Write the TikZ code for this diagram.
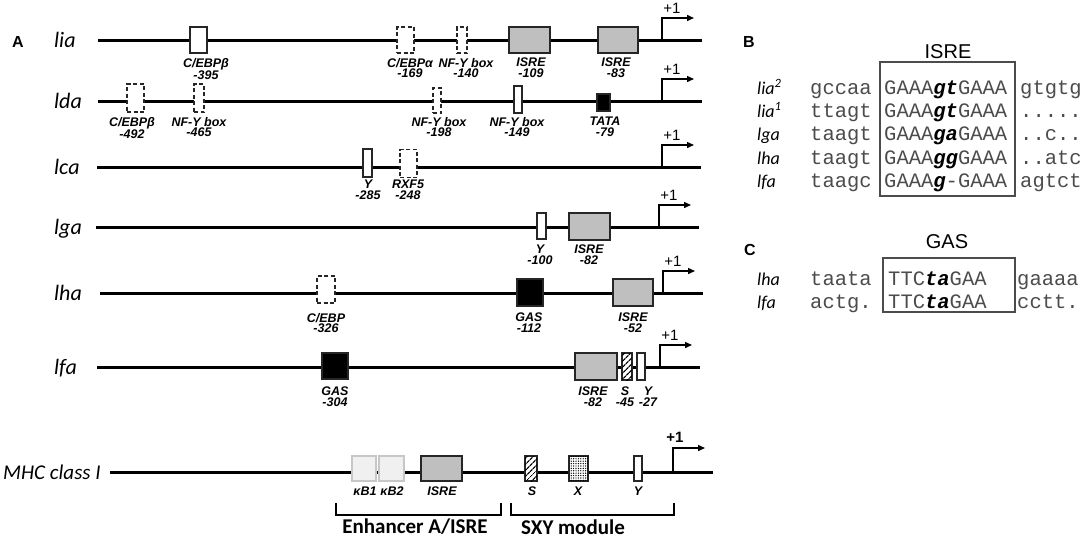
\documentclass[tikz,border=0pt]{standalone}
\usepackage{fontspec}
\setmainfont{Liberation Sans}
\newfontfamily\carlito{Carlito}
\newfontfamily\seqfont{Liberation Mono}
\usetikzlibrary{arrows.meta,patterns.meta,positioning}
\newcommand\mut[1]{{\color{black}\bfseries\itshape #1}}

\begin{document}
\begin{tikzpicture}[x=1pt,y=-1pt,
    dna/.style={line width=3pt},
    site/.style={draw=black!85,line width=1.8pt,inner sep=0pt,minimum height=26pt,fill=white},
    wbox/.style={site},
    dbox/.style={site,dash pattern=on 4pt off 2.5pt},
    isre/.style={site,fill=black!25,minimum width=41pt},
    blk/.style={site,fill=black},
    kb/.style={site,draw=black!22,fill=black!6,minimum width=25pt},
    hatch/.style={site,postaction={pattern={Lines[angle=45,distance=4pt,line width=1.4pt]}}},
    xdots/.style={site,postaction={pattern={Dots[distance=2.4pt,radius=0.7pt]}}},
    lab/.style={font=\fontsize{12.5}{10.5}\selectfont\bfseries\itshape,align=center,anchor=north,inner sep=0pt},
    gene/.style={font=\carlito\fontsize{22}{22}\selectfont\itshape,anchor=base west,inner sep=0pt},
    row/.style={font=\carlito\fontsize{18}{18}\selectfont\itshape,anchor=base west,inner sep=0pt},
    seq/.style={font=\seqfont\fontsize{20.5}{20.5}\selectfont,anchor=base west,inner sep=0pt,text=black!70},
    tss/.style={line width=1.4pt,-{Triangle[length=7pt,width=6pt]}},
    plus/.style={font=\fontsize{15}{15}\selectfont,inner sep=0pt},
    panel/.style={font=\fontsize{16}{16}\selectfont\bfseries,anchor=base west,inner sep=0pt},
    brace/.style={line width=1.6pt},
    module/.style={font=\carlito\fontsize{21}{21}\selectfont\bfseries,inner sep=0pt}
  ]
  \path[use as bounding box,fill=white] (0,0) rectangle (1084,538);

  % panel A
  \node[panel] (A) at (12,47) {A};
  \foreach \n/\y/\s/\e/\t in {lia/40/98/702/662, lda/101/98/702/662,
      lca/167/97/701/662, lga/227/96/699/659, lha/293/100/703/663, lfa/367/97/700/660} {
    \node[gene] (\n) at (54,\y+7.5) {\n};
    \coordinate (\n-s) at (\s,\y);
    \coordinate (\n-e) at (\e,\y);
    \draw[dna] (\n-s) -- (\n-e);
    \coordinate (\n-t) at (\t,\y);
    \coordinate (\n-a) at (\t+32,\y-22);
    \draw[tss] (\n-t) |- (\n-a);
    \node[plus] (\n-p) at (\t+10,\y-32) {+1};
  }

  % lia
  \node[wbox,minimum width=17pt] (lia1) at (198.5,40) {};
  \node[dbox,minimum width=17pt] (lia2) at (405.5,40) {};
  \node[dbox,minimum width=10pt] (lia3) at (462,40) {};
  \node[isre] (lia4) at (529.5,40) {};
  \node[isre,minimum width=40pt] (lia5) at (618,40) {};
  \node[lab] (lia1l) at (206,58) {C/EBPβ\\-395};
  \node[lab] (lia2l) at (410,58) {C/EBPα\\-169};
  \node[lab] (lia3l) at (466,58) {NF-Y box\\-140};
  \node[lab] (lia4l) at (531,58) {ISRE\\-109};
  \node[lab] (lia5l) at (616,58) {ISRE\\-83};

  % lda
  \node[dbox,minimum width=17pt,minimum height=28pt] (lda1) at (135.5,98) {};
  \node[dbox,minimum width=10pt,minimum height=28pt] (lda2) at (199,98) {};
  \node[dbox,minimum width=8pt,minimum height=25pt] (lda3) at (437,100.5) {};
  \node[wbox,minimum width=8pt,minimum height=27pt] (lda4) at (518,99.5) {};
  \node[blk,minimum width=13pt,minimum height=17pt] (lda5) at (603.5,102.5) {};
  \node[lab] (lda1l) at (132,117) {C/EBPβ\\-492};
  \node[lab] (lda2l) at (199,117) {NF-Y box\\-465};
  \node[lab] (lda3l) at (439,117) {NF-Y box\\-198};
  \node[lab] (lda4l) at (517,117) {NF-Y box\\-149};
  \node[lab] (lda5l) at (605,117) {TATA\\-79};

  % lca
  \node[wbox,minimum width=9pt,minimum height=28pt] (lca1) at (367.5,163) {};
  \node[dbox,minimum width=17pt,minimum height=28pt] (lca2) at (408.5,163.5) {};
  \node[lab] (lca1l) at (368,180) {Y\\-285};
  \node[lab] (lca2l) at (408,180) {RXF5\\-248};

  % lga
  \node[wbox,minimum width=9pt] (lga1) at (541.5,226) {};
  \node[isre,minimum height=27pt] (lga2) at (589.5,226.5) {};
  \node[lab] (lga1l) at (540,245) {Y\\-100};
  \node[lab] (lga2l) at (589,245) {ISRE\\-82};

  % lha
  \node[dbox,minimum width=18pt,minimum height=27pt] (lha1) at (326,289.5) {};
  \node[blk,minimum width=26pt,minimum height=27pt] (lha2) at (530,292.5) {};
  \node[isre,minimum width=40pt,minimum height=27pt] (lha3) at (633,292.5) {};
  \node[lab] (lha1l) at (326,313) {C/EBP\\-326};
  \node[lab] (lha2l) at (529,313) {GAS\\-112};
  \node[lab] (lha3l) at (633,313) {ISRE\\-52};

  % lfa
  \node[blk,minimum width=26pt] (lfa1) at (335,366) {};
  \node[isre,minimum width=42pt,minimum height=27pt] (lfa2) at (596,366.5) {};
  \node[hatch,minimum width=10pt,minimum height=27pt] (lfa3) at (627,366.5) {};
  \node[wbox,minimum width=8pt,minimum height=27pt] (lfa4) at (641,366.5) {};
  \node[lab] (lfa1l) at (335,387) {GAS\\-304};
  \node[lab] (lfa2l) at (593,387) {ISRE\\-82};
  \node[lab] (lfa3l) at (625,387) {S\\-45};
  \node[lab] (lfa4l) at (648,387) {Y\\-27};

  % MHC class I
  \node[gene,font=\carlito\fontsize{21}{21}\selectfont\itshape] (mhc) at (3,479.5) {MHC class I};
  \coordinate (mhc-s) at (110,472);
  \coordinate (mhc-e) at (713,472);
  \draw[dna] (mhc-s) -- (mhc-e);
  \coordinate (mhc-t) at (673,472);
  \coordinate (mhc-a) at (705,448);
  \draw[tss] (mhc-t) |- (mhc-a);
  \node[plus,font=\fontsize{15}{15}\selectfont\bfseries] (mhc-p) at (675,437) {+1};
  \node[kb,minimum width=24pt,minimum height=25pt] (kb1) at (364,468.5) {};
  \node[kb,minimum height=25pt] (kb2) at (391.5,468.5) {};
  \node[isre,minimum height=25pt] (mhc-i) at (441.5,468.5) {};
  \node[hatch,minimum width=12pt,minimum height=25pt] (mhc-s1) at (531,468.5) {};
  \node[xdots,minimum width=19pt,minimum height=25pt] (mhc-x) at (578.5,468.5) {};
  \node[wbox,minimum width=8pt,minimum height=25pt] (mhc-y) at (638,468.5) {};
  \node[lab] (kb1l) at (365,487) {κB1};
  \node[lab] (kb2l) at (392,487) {κB2};
  \node[lab] (mhc-il) at (442,487) {ISRE};
  \node[lab] (mhc-sl) at (532,487) {S};
  \node[lab] (mhc-xl) at (578,487) {X};
  \node[lab] (mhc-yl) at (638,487) {Y};
  \coordinate (enh-a) at (336,503);
  \coordinate (enh-b) at (501,503);
  \draw[brace] (enh-a) -- ++(0,12) -| (enh-b);
  \coordinate (sxy-a) at (511,503);
  \coordinate (sxy-b) at (674,503);
  \draw[brace] (sxy-a) -- ++(0,12) -| (sxy-b);
  \node[module] (enh) at (415,527) {Enhancer A/ISRE};
  \node[module] (sxy) at (573,527) {SXY module};

  % panel B
  \node[panel] (B) at (743,47) {B};
  \node[font=\fontsize{20}{20}\selectfont] (isre-t) at (948,52) {ISRE};
  \foreach \r/\nm/\lt/\bx/\rt/\yb in {
      1/{lia\textsuperscript{2}}/{gccaa}/{GAAA\mut{gt}GAAA}/{gtgtg}/94,
      2/{lia\textsuperscript{1}}/{ttagt}/{GAAA\mut{gt}GAAA}/{.....}/117,
      3/{lga}/{taagt}/{GAAA\mut{ga}GAAA}/{..c..}/140,
      4/{lha}/{taagt}/{GAAA\mut{gg}GAAA}/{..atc}/164,
      5/{lfa}/{taagc}/{GAAA\mut{g}-GAAA}/{agtct}/187} {
    \node[row] (b\r) at (757,\yb) {\nm};
    \node[seq] (b\r-l) at (810,\yb) {\lt};
    \node[seq] (b\r-m) at (884,\yb) {\bx};
    \node[seq] (b\r-r) at (1020,\yb) {\rt};
  }
  \draw[black!70,line width=1.2pt] (880,62) rectangle (1015,196);

  % panel C
  \node[panel] (C) at (744,255) {C};
  \node[font=\fontsize{20}{20}\selectfont] (gas-t) at (947,242) {GAS};
  \foreach \r/\nm/\lt/\bx/\rt/\yb in {
      1/{lha}/{taata}/{TTC\mut{ta}GAA}/{gaaaa}/285.5,
      2/{lfa}/{actg.}/{TTC\mut{ta}GAA}/{cctt.}/308} {
    \node[row] (c\r) at (757,\yb) {\nm};
    \node[seq] (c\r-l) at (810,\yb) {\lt};
    \node[seq] (c\r-m) at (888,\yb) {\bx};
    \node[seq] (c\r-r) at (1017,\yb) {\rt};
  }
  \draw[black!70,line width=1.2pt] (883,258) rectangle (1015,312);
\end{tikzpicture}
\end{document}
